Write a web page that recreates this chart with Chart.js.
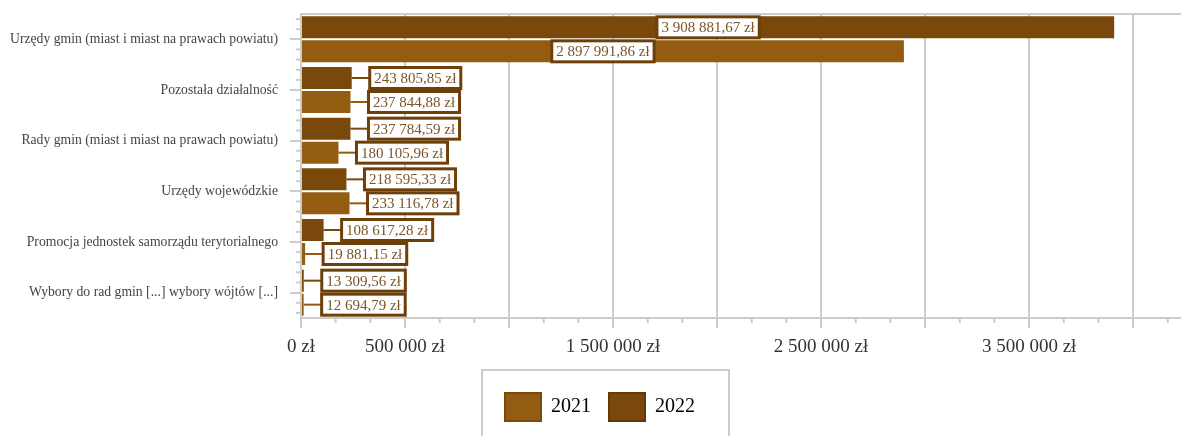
<!DOCTYPE html>
<html lang="pl">
<head>
<meta charset="utf-8">
<script src="https://cdn.jsdelivr.net/npm/chart.js@4"></script>
<style>
  html, body { margin: 0; padding: 0; background: #ffffff; }
  #wrap { width: 1181px; height: 436px; position: relative; }
</style>
</head>
<body>
<div id="wrap"><canvas id="c"></canvas></div>
<script>
// ---- data ----
const categories = [
  'Urzędy gmin (miast i miast na prawach powiatu)',
  'Pozostała działalność',
  'Rady gmin (miast i miast na prawach powiatu)',
  'Urzędy wojewódzkie',
  'Promocja jednostek samorządu terytorialnego',
  'Wybory do rad gmin [...] wybory wójtów [...]'
];
const values2022 = [3908881.67, 243805.85, 237784.59, 218595.33, 108617.28, 13309.56];
const values2021 = [2897991.86, 237844.88, 180105.96, 233116.78, 19881.15, 12694.79];
const seriesNames = ['2022', '2021'];
const majorTicks = [0, 500000, 1000000, 1500000, 2000000, 2500000, 3000000, 3500000, 4000000];
const labeledTicks = [0, 500000, 1500000, 2500000, 3500000];
const axisMax = 4230000;
const majorStep = 500000;

// ---- style ----
const FONT = '"Liberation Serif", "Times New Roman", serif';
const C2022 = '#7a480b';
const C2021 = '#935c11';
const GRID = '#cccccc';

function groupInt(n) {
  const s = String(Math.trunc(Math.abs(n)));
  return s.replace(/\B(?=(\d{3})+(?!\d))/g, ' ');
}
function fmtMoney(v) {
  const fixed = Math.abs(v).toFixed(2).split('.');
  return groupInt(Number(fixed[0])) + ',' + fixed[1] + ' zł';
}
function fmtTick(v) { return groupInt(v) + ' zł'; }

const extras = {
  id: 'extras',
  afterLayout(chart) {
    const lg = chart.legend;
    if (!lg) return;
    const pad = lg.options.labels.padding;
    const startX = (lg.left + pad + lg.right - lg.lineWidths[0]) / 2;
    const dx = 505 - startX;
    lg.left += dx; lg.right += dx;
    const dy = 375 - lg.top;
    lg.top += dy; lg.bottom += dy;
  },
  beforeDatasetsDraw(chart) {
    const {ctx, chartArea} = chart;
    ctx.save();
    ctx.strokeStyle = GRID;
    ctx.lineWidth = 2;
    ctx.beginPath();
    ctx.moveTo(chartArea.left - 1, chartArea.top);
    ctx.lineTo(chartArea.right, chartArea.top);
    ctx.stroke();
    ctx.restore();
  },
  afterDatasetsDraw(chart) {
    const ctx = chart.ctx;
    ctx.save();
    ctx.font = '15px ' + FONT;
    ctx.textBaseline = 'middle';
    ctx.textAlign = 'center';
    chart.data.datasets.forEach((ds, di) => {
      const meta = chart.getDatasetMeta(di);
      meta.data.forEach((bar, i) => {
        const text = fmtMoney(ds.data[i]);
        const tw = ctx.measureText(text).width;
        const bw = tw + 9, bh = 21;
        const base = bar.base;
        const len = bar.x - base;
        let bx;
        if (len > bw + 20) {
          bx = base + len / 2 - bw / 2;
        } else {
          bx = bar.x + 18;
          ctx.strokeStyle = ds.backgroundColor;
          ctx.lineWidth = 2;
          ctx.beginPath();
          ctx.moveTo(bar.x, bar.y);
          ctx.lineTo(bx, bar.y);
          ctx.stroke();
        }
        const by = bar.y - bh / 2;
        ctx.fillStyle = '#ffffff';
        ctx.fillRect(bx, by, bw, bh);
        ctx.strokeStyle = '#6e4009';
        ctx.lineWidth = 3;
        ctx.strokeRect(bx, by, bw, bh);
        ctx.fillStyle = '#7b5427';
        ctx.fillText(text, bx + bw / 2, bar.y + 1);
      });
    });
    ctx.restore();
  },
  afterDraw(chart) {
    const {ctx, chartArea, scales} = chart;
    const xs = scales.x, ys = scales.y;
    ctx.save();
    ctx.strokeStyle = GRID;
    ctx.lineWidth = 2;
    // minor x ticks
    const minorStep = majorStep / 3;
    for (let k = 1; k * minorStep <= xs.max; k++) {
      if (k % 3 === 0) continue;
      const px = xs.getPixelForValue(k * minorStep);
      ctx.beginPath();
      ctx.moveTo(px, chartArea.bottom);
      ctx.lineTo(px, chartArea.bottom + 5);
      ctx.stroke();
    }
    // minor y ticks
    const band = ys.getPixelForValue(1) - ys.getPixelForValue(0);
    for (let i = 0; i < categories.length; i++) {
      const c = ys.getPixelForValue(i);
      [-2, -1, 1, 2].forEach(f => {
        const py = c + f * band / 5;
        ctx.beginPath();
        ctx.moveTo(chartArea.left - 5, py);
        ctx.lineTo(chartArea.left, py);
        ctx.stroke();
      });
    }
    // legend frame
    const lg = chart.legend;
    const pad = lg.options.labels.padding;
    const startX = (lg.left + pad + lg.right - lg.lineWidths[0]) / 2;
    ctx.strokeRect(startX - 23, lg.top - 5, 247, 120);
    ctx.restore();
  }
};

new Chart(document.getElementById('c'), {
  type: 'bar',
  data: {
    labels: categories,
    datasets: [
      { label: seriesNames[0], data: values2022, backgroundColor: C2022, borderWidth: 0,
        categoryPercentage: 0.947, barPercentage: 0.917 },
      { label: seriesNames[1], data: values2021, backgroundColor: C2021, borderWidth: 0,
        categoryPercentage: 0.947, barPercentage: 0.917 }
    ]
  },
  options: {
    indexAxis: 'y',
    responsive: true,
    maintainAspectRatio: false,
    animation: false,
    layout: { padding: { top: 14, right: 0, left: 0, bottom: 0 } },
    plugins: {
      tooltip: { enabled: false },
      legend: {
        position: 'bottom',
        reverse: true,
        labels: {
          boxWidth: 36,
          boxHeight: 28,
          padding: 18,
          color: '#333333',
          font: { family: FONT, size: 20 },
          generateLabels(chart) {
            const borders = ['#633a07', '#7a480b'];
            return chart.data.datasets.map((ds, i) => ({
              text: ds.label,
              fillStyle: ds.backgroundColor,
              strokeStyle: borders[i],
              lineWidth: 2,
              hidden: false,
              datasetIndex: i
            }));
          }
        }
      }
    },
    scales: {
      x: {
        type: 'linear',
        min: 0,
        max: axisMax,
        afterBuildTicks(scale) { scale.ticks = majorTicks.map(v => ({ value: v })); },
        afterFit(scale) { scale.height = 62; scale.paddingRight = 0; scale.paddingLeft = 0; },
        grid: { color: GRID, lineWidth: 2, tickLength: 10, tickColor: GRID, drawTicks: true },
        border: { color: GRID, width: 2 },
        ticks: {
          autoSkip: false,
          maxRotation: 0,
          padding: 8,
          color: '#333333',
          font: { family: FONT, size: 19 },
          callback(v) { return labeledTicks.includes(v) ? fmtTick(v) : ''; }
        }
      },
      y: {
        type: 'category',
        afterFit(scale) { scale.width = 301; scale.paddingTop = 0; scale.paddingBottom = 0; },
        grid: { offset: false, drawOnChartArea: false, tickLength: 11, color: GRID, lineWidth: 2 },
        border: { color: GRID, width: 2 },
        ticks: {
          padding: 12,
          color: '#444444',
          font: { family: FONT, size: 13.7 }
        }
      }
    }
  },
  plugins: [extras]
});
</script>
</body>
</html>
